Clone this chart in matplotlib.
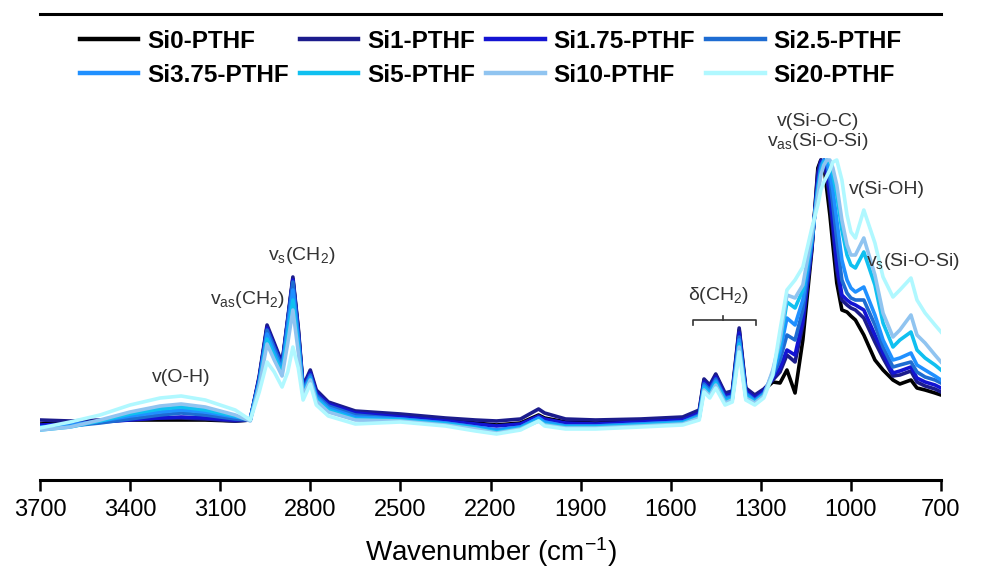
import numpy as np
import matplotlib
matplotlib.use("Agg")
import matplotlib.pyplot as plt

plt.rcParams['font.family'] = ['Liberation Sans', 'DejaVu Sans']
plt.rcParams['mathtext.default'] = 'regular'

wn = [3700, 3600, 3500, 3400, 3300, 3230, 3150, 3050, 3000,
      2970, 2944, 2920, 2894, 2875, 2858, 2840, 2824, 2800, 2780, 2740, 2650,
      2500, 2350, 2250, 2180, 2100, 2040, 2020, 1950, 1850, 1700, 1560,
      1505, 1489, 1470, 1450, 1419, 1395, 1372, 1350, 1320, 1290, 1260,
      1236, 1213, 1186, 1160, 1130, 1110, 1100, 1090, 1080, 1070, 1060, 1047,
      1030, 1013, 1000, 985, 957, 920, 893, 860, 837, 800, 780, 753, 720, 700]

# absorbance (a.u.)
si0 = [59, 61, 62, 63, 63, 63, 63, 62, 63,
       105, 156, 138, 118, 163, 204, 153, 95, 111, 91, 80, 71,
       67, 63, 60, 58, 60, 68, 65, 61, 60, 62, 64,
       71, 103, 96, 108, 88, 90, 153, 93, 86, 93, 101,
       100, 113, 90, 143, 233, 315, 323, 318, 293, 268, 238, 200,
       173, 171, 167, 163, 148, 123, 113, 103, 99, 103, 95, 93, 90, 88]
si1 = [63, 62, 63, 64, 65, 65, 64, 62, 63,
       107, 158, 140, 120, 165, 206, 155, 97, 113, 93, 81, 72,
       69, 65, 63, 62, 64, 74, 70, 64, 63, 64, 66,
       73, 104, 98, 109, 90, 92, 155, 95, 88, 94, 103,
       111, 128, 121, 158, 235, 311, 323, 320, 305, 283, 253, 213,
       183, 178, 175, 173, 165, 141, 125, 107, 108, 112, 101, 97, 94, 91]
si175 = [58, 59, 61, 63, 65, 66, 65, 63, 64,
         105, 155, 137, 118, 163, 203, 151, 95, 110, 90, 79, 70,
         66, 62, 59, 57, 59, 67, 64, 60, 59, 61, 63,
         70, 101, 95, 106, 87, 89, 150, 92, 85, 92, 105,
         115, 133, 128, 163, 237, 305, 321, 323, 313, 291, 263, 221,
         188, 183, 180, 178, 173, 148, 130, 110, 112, 116, 105, 101, 98, 95]
si25 = [55, 57, 60, 64, 68, 70, 68, 64, 63,
        103, 153, 135, 116, 161, 201, 148, 93, 108, 88, 77, 68,
        64, 60, 56, 53, 56, 65, 61, 57, 57, 59, 61,
        68, 99, 93, 104, 85, 87, 146, 90, 83, 90, 107,
        123, 148, 143, 173, 240, 298, 318, 323, 318, 303, 278, 243,
        203, 190, 185, 183, 183, 158, 136, 116, 118, 121, 111, 106, 103, 100]
si375 = [56, 58, 62, 67, 71, 73, 71, 66, 64,
         101, 149, 131, 113, 155, 193, 143, 91, 106, 86, 75, 66,
         64, 60, 56, 53, 56, 65, 61, 57, 57, 59, 61,
         67, 97, 91, 102, 84, 86, 143, 89, 82, 89, 109,
         131, 165, 158, 183, 243, 295, 315, 323, 321, 311, 293, 263,
         223, 203, 195, 191, 196, 168, 143, 123, 125, 130, 118, 113, 107, 103]
si5 = [53, 56, 62, 69, 74, 76, 73, 67, 63,
       99, 144, 127, 110, 148, 183, 137, 89, 104, 84, 73, 64,
       63, 59, 55, 51, 55, 63, 59, 56, 56, 58, 60,
       66, 95, 89, 100, 82, 84, 139, 87, 81, 88, 111,
       138, 181, 175, 193, 245, 293, 311, 321, 323, 320, 308, 288,
       253, 228, 218, 215, 231, 198, 160, 136, 143, 151, 133, 125, 118, 113]
si10 = [53, 56, 63, 71, 77, 79, 76, 68, 62,
        97, 139, 123, 107, 140, 173, 131, 87, 103, 82, 71, 63,
        62, 58, 54, 50, 54, 62, 58, 55, 55, 57, 59,
        65, 93, 87, 98, 80, 83, 136, 85, 80, 87, 113,
        143, 188, 185, 198, 248, 288, 308, 318, 323, 323, 315, 298,
        263, 238, 228, 228, 245, 208, 170, 146, 153, 168, 148, 140, 128, 121]
si20 = [55, 61, 68, 78, 85, 87, 83, 73, 63,
        91, 121, 111, 96, 111, 136, 115, 83, 99, 78, 67, 59,
        61, 57, 52, 49, 53, 62, 57, 54, 54, 56, 58,
        63, 91, 85, 95, 78, 81, 131, 83, 78, 85, 108,
        153, 193, 203, 216, 255, 278, 293, 301, 307, 313, 321, 323,
        303, 268, 251, 245, 273, 240, 206, 186, 193, 205, 183, 170, 158, 151]

labels = ['Si0-PTHF', 'Si1-PTHF', 'Si1.75-PTHF', 'Si2.5-PTHF',
          'Si3.75-PTHF', 'Si5-PTHF', 'Si10-PTHF', 'Si20-PTHF']
colors = ['#000000', '#1c1c8c', '#1414d2', '#1e6cd2',
          '#2090ff', '#10c0f0', '#90c4f0', '#b0f8ff']
series = [si0, si1, si175, si25, si375, si5, si10, si20]

fig = plt.figure(figsize=(9.85, 5.78), dpi=100)
ax = fig.add_axes([40/985, 1-480/578, 901/985, 466/578])

lines = []
for y, c, lab in zip(series, colors, labels):
    ln, = ax.plot(wn, y, color=c, lw=2.6, label=lab, solid_joinstyle='round')
    lines.append(ln)

ax.set_xlim(3700, 700)
ax.set_ylim(3, 469)
ax.set_xticks(np.arange(3700, 699, -300))
ax.set_yticks([])
ax.spines['left'].set_visible(False)
ax.spines['right'].set_visible(False)
ax.spines['top'].set_linewidth(2.2)
ax.spines['bottom'].set_linewidth(2.2)
ax.tick_params(axis='x', direction='out', length=8, width=1.8, labelsize=17, pad=6)
ax.set_xlabel('Wavenumber (cm$^{-1}$)', fontsize=20, labelpad=10)

# legend filled row by row (matplotlib fills columns first)
order = [0, 4, 1, 5, 2, 6, 3, 7]
leg = fig.legend([lines[i] for i in order], [labels[i] for i in order],
                 ncol=4, loc='upper left', bbox_to_anchor=(80/985, 1-30/578),
                 frameon=False, prop={'weight': 'bold', 'size': 17.5},
                 handlelength=2.4, handletextpad=0.37, columnspacing=0.45,
                 labelspacing=0.45, borderpad=0, borderaxespad=0)
for h in leg.legend_handles:
    h.set_linewidth(3.2)

tc = '#333333'
fs = 14
ax.text(3230, 106, 'v(O-H)', ha='center', va='center', fontsize=fs, color=tc)
ax.text(3010, 183, 'v$_{as}$(CH$_2$)', ha='center', va='center', fontsize=fs, color=tc)
ax.text(2830, 228, 'v$_{s}$(CH$_2$)', ha='center', va='center', fontsize=fs, color=tc)
ax.text(1440, 187, 'δ(CH$_2$)', ha='center', va='center', fontsize=fs, color=tc)
ax.text(1110, 362, 'v(Si-O-C)', ha='center', va='center', fontsize=fs, color=tc)
ax.text(1110, 341, 'v$_{as}$(Si-O-Si)', ha='center', va='center', fontsize=fs, color=tc)
ax.text(880, 293, 'v(Si-OH)', ha='center', va='center', fontsize=fs, color=tc)
ax.text(795, 221, 'v$_{s}$(Si-O-Si)', ha='center', va='center', fontsize=fs, color=tc,
        clip_on=False)

# bracket over the CH2 bending bands
ax.plot([1525, 1525, 1315, 1315], [158, 163, 163, 158], color=tc, lw=1.2)
ax.plot([1425, 1425], [163, 167], color=tc, lw=1.2)

fig.savefig('out.png', dpi=100)
